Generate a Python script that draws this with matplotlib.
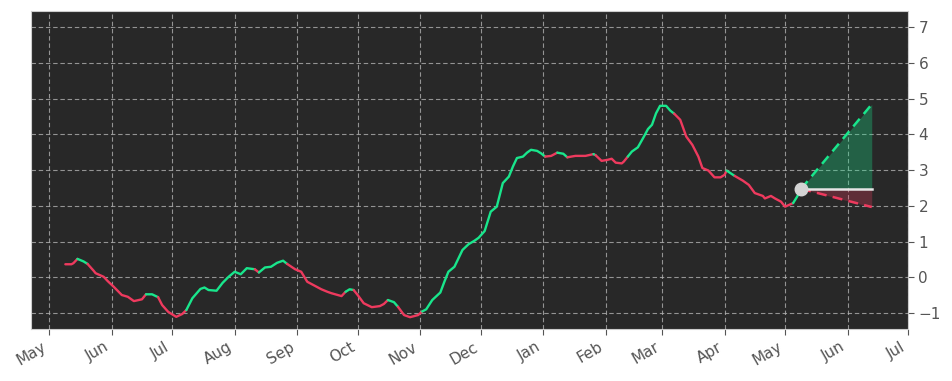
import numpy as np
import pandas as pd
import matplotlib
matplotlib.use("Agg")
import matplotlib.pyplot as plt
import matplotlib.dates as mdates

# price history and trend flag per segment: 1 = up (green), 0 = down (red)
dates = ["2022-05-09", "2022-05-12", "2022-05-13", "2022-05-15", "2022-05-18", "2022-05-20",
         "2022-05-23", "2022-05-24", "2022-05-28", "2022-05-30", "2022-06-02", "2022-06-06",
         "2022-06-09", "2022-06-12", "2022-06-16", "2022-06-18", "2022-06-21", "2022-06-24",
         "2022-06-26", "2022-06-29", "2022-07-03", "2022-07-06", "2022-07-08", "2022-07-11",
         "2022-07-15", "2022-07-17", "2022-07-19", "2022-07-23", "2022-07-26", "2022-07-29",
         "2022-08-01", "2022-08-04", "2022-08-07", "2022-08-11", "2022-08-13", "2022-08-16",
         "2022-08-19", "2022-08-22", "2022-08-25", "2022-08-27", "2022-08-31", "2022-09-03",
         "2022-09-06", "2022-09-09", "2022-09-13", "2022-09-16", "2022-09-18", "2022-09-23",
         "2022-09-25", "2022-09-27", "2022-09-29", "2022-10-01", "2022-10-04", "2022-10-08",
         "2022-10-12", "2022-10-14", "2022-10-16", "2022-10-19", "2022-10-21", "2022-10-24",
         "2022-10-27", "2022-10-31", "2022-11-02", "2022-11-04", "2022-11-07", "2022-11-11",
         "2022-11-13", "2022-11-15", "2022-11-18", "2022-11-22", "2022-11-25", "2022-11-28",
         "2022-11-30", "2022-12-03", "2022-12-05", "2022-12-06", "2022-12-09", "2022-12-12",
         "2022-12-15", "2022-12-17", "2022-12-19", "2022-12-22", "2022-12-24", "2022-12-26",
         "2022-12-29", "2022-12-31", "2023-01-02", "2023-01-05", "2023-01-08", "2023-01-11",
         "2023-01-13", "2023-01-17", "2023-01-22", "2023-01-26", "2023-01-27", "2023-01-30",
         "2023-02-02", "2023-02-04", "2023-02-06", "2023-02-09", "2023-02-10", "2023-02-12",
         "2023-02-14", "2023-02-17", "2023-02-20", "2023-02-22", "2023-02-24", "2023-02-26",
         "2023-02-28", "2023-03-03", "2023-03-05", "2023-03-07", "2023-03-10", "2023-03-13",
         "2023-03-16", "2023-03-19", "2023-03-21", "2023-03-24", "2023-03-27", "2023-03-30",
         "2023-04-01", "2023-04-02", "2023-04-06", "2023-04-10", "2023-04-13", "2023-04-16",
         "2023-04-20", "2023-04-21", "2023-04-24", "2023-04-26", "2023-04-29", "2023-05-01",
         "2023-05-03", "2023-05-05", "2023-05-07", "2023-05-09"]
values = [0.37, 0.37, 0.40, 0.52, 0.45, 0.38,
          0.19, 0.12, 0.02, -0.10, -0.26, -0.49,
          -0.54, -0.66, -0.61, -0.47, -0.47, -0.55,
          -0.77, -0.96, -1.10, -1.02, -0.91, -0.58,
          -0.32, -0.28, -0.35, -0.37, -0.15, 0.02,
          0.16, 0.09, 0.26, 0.23, 0.14, 0.28,
          0.30, 0.41, 0.47, 0.38, 0.23, 0.16,
          -0.12, -0.21, -0.33, -0.40, -0.44, -0.52,
          -0.40, -0.33, -0.35, -0.49, -0.72, -0.83,
          -0.80, -0.74, -0.63, -0.69, -0.82, -1.05,
          -1.11, -1.05, -0.95, -0.89, -0.63, -0.42,
          -0.12, 0.16, 0.30, 0.77, 0.93, 1.03,
          1.11, 1.30, 1.66, 1.84, 1.98, 2.64,
          2.82, 3.10, 3.34, 3.38, 3.49, 3.57,
          3.54, 3.47, 3.38, 3.40, 3.49, 3.46,
          3.36, 3.40, 3.40, 3.45, 3.42, 3.26,
          3.29, 3.32, 3.21, 3.19, 3.24, 3.38,
          3.52, 3.64, 3.94, 4.15, 4.27, 4.59,
          4.80, 4.80, 4.67, 4.58, 4.41, 3.94,
          3.71, 3.38, 3.06, 2.99, 2.80, 2.80,
          2.87, 2.99, 2.84, 2.71, 2.59, 2.36,
          2.28, 2.21, 2.28, 2.21, 2.12, 1.98,
          2.03, 2.08, 2.26, 2.48]
trend = [0, 0, 0, 1, 1, 0,
         0, 0, 0, 0, 0, 0,
         0, 0, 0, 1, 1, 0,
         0, 0, 0, 0, 1, 1,
         1, 1, 1, 1, 1, 1,
         1, 1, 1, 0, 1, 1,
         1, 1, 1, 0, 0, 0,
         0, 0, 0, 0, 0, 0,
         1, 1, 0, 0, 0, 0,
         0, 0, 1, 1, 0, 0,
         0, 0, 1, 1, 1, 1,
         1, 1, 1, 1, 1, 1,
         1, 1, 1, 1, 1, 1,
         1, 1, 1, 1, 1, 1,
         1, 1, 0, 0, 1, 1,
         0, 0, 0, 1, 0, 0,
         0, 0, 0, 0, 0, 1,
         1, 1, 1, 1, 1, 1,
         1, 1, 1, 0, 0, 0,
         0, 0, 0, 0, 0, 0,
         0, 1, 0, 0, 0, 0,
         0, 0, 0, 0, 0, 0,
         0, 1, 1, 1]

# forecast
forecast_end = "2023-06-13"
forecast_high = 4.84
forecast_low = 1.97

green = "#19e68c"
red = "#ee3a5e"

x = pd.to_datetime(dates)
y = np.array(values)

fig = plt.figure(figsize=(9.52, 3.81), dpi=100)
ax = fig.add_axes([0.0323, 0.1365, 0.9215, 0.8355])
ax.set_facecolor("#282828")

# draw runs of same colour as one polyline
start = 0
for i in range(1, len(y)):
    if i == len(y) - 1 or trend[i] != trend[start]:
        c = green if trend[start] == 1 else red
        ax.plot(x[start:i + 1], y[start:i + 1], color=c, lw=1.7, solid_capstyle="round", zorder=3)
        start = i

last_x = x[-1]
last_y = y[-1]
fx = [last_x, pd.Timestamp(forecast_end)]
ax.fill_between(fx, [last_y, last_y], [last_y, forecast_high], color=green, alpha=0.3, lw=0, zorder=2)
ax.fill_between(fx, [last_y, last_y], [last_y, forecast_low], color=red, alpha=0.28, lw=0, zorder=2)
ax.plot(fx, [last_y, forecast_high], color=green, lw=1.8, ls=(0, (4, 2.5)), zorder=3)
ax.plot(fx, [last_y, forecast_low], color=red, lw=1.8, ls=(0, (4, 2.5)), zorder=3)
ax.plot(fx, [last_y, last_y], color="#e6e6e6", lw=1.8, zorder=3)
ax.plot([last_x], [last_y], "o", color="#d4d4d4", markersize=9, zorder=4)

ax.set_ylim(-1.44, 7.46)
ax.set_xlim(pd.Timestamp("2022-04-21 20:00"), pd.Timestamp("2023-07-01"))
ax.set_yticks(range(-1, 8))
ax.yaxis.tick_right()
ax.xaxis.set_major_locator(mdates.MonthLocator())
ax.xaxis.set_major_formatter(mdates.DateFormatter("%b"))
ax.grid(True, color="#b0b0b0", ls=(0, (4, 2.5)), lw=0.8, alpha=0.8)
ax.tick_params(axis="both", colors="#555555", labelsize=11, length=4)
for lbl in ax.get_xticklabels():
    lbl.set_rotation(30)
    lbl.set_ha("right")
for s in ax.spines.values():
    s.set_color("#cccccc")

plt.savefig("out.png", dpi=100)
